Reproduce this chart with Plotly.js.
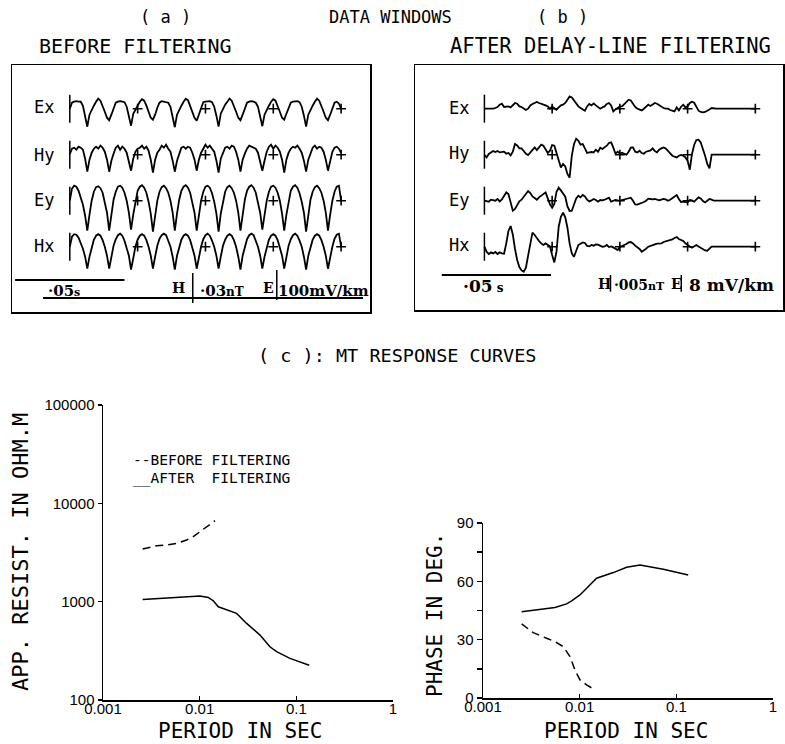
<!DOCTYPE html>
<html><head><meta charset="utf-8">
<script src="https://cdn.plot.ly/plotly-3.0.1.min.js"></script>
<style>html,body{margin:0;padding:0;background:#fff}#chart{width:785px;height:744px}</style>
</head><body><div id="chart"></div>
<script>
// ================= DATA =================
const channels = ['Ex', 'Hy', 'Ey', 'Hx'];
const sampleInterval = 0.001;            // s between samples
const quarterMarks = [0.031, 0.062, 0.093, 0.124]; // s

// (a) before filtering (relative amplitude)
const exA = [
0, 6, 7, 7.5, 7, 7, 3, -7, -18,
-6, -1, 3, 7, 10, 8, 3, -3, -9, -11.5, -6, 1, 6, 7, 7.5, 7, 6.5, 2, -7, -17,
-5, -1, 4, 7, 9.5, 8, 3, -3, -9, -11, -6, 1, 6, 7.5, 7, 7, 6, 2, -7, -18.5,
-6, -1, 3, 7, 10, 8.5, 3, -3, -9, -12, -6, 1, 6.5, 7, 7, 7.5, 6.5, 2, -7, -18,
-5, 0, 4, 7, 10, 8, 3, -3, -9, -11.5, -6, 1, 6, 7, 7.5, 7, 6, 2, -7, -17.5,
-6, -1, 3, 7, 9.5, 8, 3, -3, -9, -11, -5, 1, 6, 7, 7, 7.5, 6.5, 2, -7, -18,
-6, -1, 3, 7, 10, 8, 3, -3, -9, -11.5, -6, 1, 6, 7, 5, 0];
const hyA = [
0.5, 6, 7, 5, 8, 7, 5, -4, -17,
-5, 2, 6, 8, 6, 9, 7, 3, -5, -17,
-6, 1, 7, 9, 5, 8, 6, 2, -6, -16,
-4, 3, 6, 7, 9, 6, 8, 4, -5, -18,
-5, 2, 5, 9, 7, 10, 6, 3, -6, -17,
-6, 1, 7, 8, 6, 8, 7, 2, -5, -16,
-5, 2, 6, 10, 7, 9, 6, 3, -6, -18,
-4, 2, 7, 8, 6, 9, 8, 3, -5, -17,
-5, 1, 6, 9, 8, 7, 6, 2, -6, -16,
-6, 3, 8, 10, 6, 9, 7, 3, -5, -18,
-5, 2, 6, 8, 7, 9, 6, 2, -6, -17,
-5, 1, 7, 9, 6, 8, 7, 3, -5, -16,
-5, 3, 7, 8, 6, 2];
const eyA = [
0, 12, 15, 14, 10, 4, -4, -15, -30,
-14, 0, 9, 13.5, 14.5, 12.5, 8, -1, -12, -30,
-13, 1, 9, 14, 15, 13, 8, 0, -12, -29,
-14, 0, 10, 14, 15.5, 13, 8, -1, -13, -31,
-14, 0, 9, 13.5, 15, 12.5, 8, 0, -12, -30,
-13, 1, 10, 14, 15.5, 13, 8, -1, -12, -30,
-14, 0, 9, 14, 15, 13, 7.5, -1, -13, -31,
-13, 0, 9, 13.5, 15, 12.5, 8, 0, -12, -30,
-14, 1, 10, 14, 15.5, 13, 8, -1, -12, -29,
-13, 0, 9, 14, 15, 13, 8, 0, -13, -30,
-14, 0, 10, 14, 15.5, 13, 7.5, -1, -12, -31,
-13, 1, 9, 13.5, 15, 12.5, 8, 0, -12, -30,
-14, 0, 9, 14, 15, 0];
const hxA = [
0, 10, 12.5, 12, 9, 4, -2, -10, -22,
-10, 0, 7, 11, 12.5, 11, 6.5, 0, -9, -22,
-9, 1, 7.5, 11.5, 13, 11, 6, -1, -9, -23,
-10, 0, 7, 11, 12.5, 11, 6.5, 0, -9, -22,
-10, 1, 8, 11.5, 13, 11.5, 6, 0, -10, -23,
-9, 0, 7, 11, 12.5, 11, 6.5, -1, -9, -22,
-10, 0, 7.5, 11.5, 13, 11, 6, 0, -9, -22,
-10, 1, 7, 11, 12.5, 11, 6.5, 0, -10, -23,
-9, 0, 7.5, 11.5, 13, 11.5, 6, 0, -9, -22,
-10, 0, 7, 11, 12.5, 11, 6.5, -1, -9, -22,
-10, 1, 7.5, 11.5, 13, 11, 6, 0, -10, -23,
-9, 0, 7, 11, 12.5, 11, 6.5, 0, -9, -22,
-10, 0, 8, 12, 13, 0];

// (b) after delay-line filtering (relative amplitude)
const exB = [
0, 0, -0.7, 0, 0, 0.7, 1.7, 4, 5, 1.7,
2.3, 2.3, 1.3, 4, 5.7, 5, 2.3, 1.7, 0, -1.3,
0, 3.3, 4.7, 6, 6.7, 5.7, 5, 4.7, 3.3, 2.3,
0, 2, 0, -1, 1.3, 3.3, 4, 5.7, 9, 12.3,
11.3, 8, 4.7, 2.3, 0.7, -0.7, -2, 2.3, 4.7, 3.3,
5.3, 3.3, 1.3, 0, 1.3, 2.3, 4.7, 5.7, 3.3, -2.7,
-0.7, 1.3, 2.3, 2.3, 4.7, 7.3, 9, 8.3, 4.7, 1.7,
0, -1, -1.7, 0, 2.3, 4, 2.7, 4, 5.7, 5,
3.3, 2, 0.7, 0, 0, -1.3, -2, -2.7, 1.3, -1.7,
2, 4, 1.3, 2.3, 5.7, 7, 6, 1.3, -2, -3.3,
-3.7, -3.3, -2.3, -0.7, 0.7,
0, 0, 0, 0, 0, 0, 0, 0, 0, 0, 0, 0, 0, 0, 0, 0, 0, 0, 0, 0];
const hyB = [
0, -2.7, 0.7, 2.3, 3.7, 2.7, 3.7, 2.3, 3, 3,
1, 1.7, -0.7, 3, 10.7, 9.3, 6.3, 6.3, 3.7, 1,
-0.3, 2.3, 5.7, 7.3, 4.7, 7.3, 10, 9, 5, 1.7,
4, 9.7, 9, 1.7, -3.7, -12.7, -9.3, -11.7, -19.3, -23,
-1, 10.7, 16, 14, 10, 10.7, 6.3, 1.7, 2.3, 2.7,
2.3, 5, 3, 7, 5.7, 7, 9, 11.7, 12.3, 7,
1, 3, 1, 2, 1, 0, 3, 7, 7.3, 3,
2.3, 4, 1.7, 1, 3, 3.7, 4.3, 6.3, 3.7, 2.3,
5, 6.3, 7.3, 6.3, 3.7, 1.7, -1, -2, -2.7, -1,
-0.3, -1, -2.7, -6, -15, 0.7, 9.7, 14.7, 15, 12.3,
6.3, -1, -9.3, -13.7, 0,
0, 0, 0, 0, 0, 0, 0, 0, 0, 0, 0, 0, 0, 0, 0, 0, 0, 0, 0, 0];
const eyB = [
0, -0.3, -1, 1, 0.3, 0, 1.7, -0.7, 1.3, 4.3,
8.3, 6.7, -3.3, -10, -8.3, -3.7, -0.7, 1, 4.3, 7.7,
9.7, 7.7, 4.3, 2.7, 1, 3.3, 5, 6.3, 8.3, 2.3,
-3.7, -7, -3.3, 9, 13, 10.3, 7, 4, -5.7, -10.3,
-10, -3.3, 2.3, 5, 3.3, 5.7, 4.3, 1, -0.7, 0.3,
1.7, 0.7, -1, 0.7, 0.3, 1, 2, 3, -1, -0.3,
0.7, 0.3, 0, 0.7, 1.3, 1.7, 2, 3, 0, -3.7,
-4, -3.3, -2.3, -1.3, 0, 2, 1.7, 1.3, 1.7, 0.7,
0.3, 1, 1.7, 1.3, 0, 1, 2.3, 4.3, 5.7, 1.7,
-1.3, -1, -1.7, -1.7, 0.7, 0.3, -1, 1, 3.3, 2.3,
-0.3, -1.7, -0.3, 1.7, 1,
0, 0, 0, 0, 0, 0, 0, 0, 0, 0, 0, 0, 0, 0, 0, 0, 0, 0, 0, 0];
const hxB = [
0, -5, -7.3, -5.7, -6.7, -5.3, -7.3, -5.7, -6.7, -7,
3.3, 15.7, 20.7, 12.3, -2.3, -13.3, -20.3, -23.7, -25, -21,
-9, 4, 14, 11.7, 8.3, 5.7, 3.3, 1.7, 3.3, 2,
0.3, -8.3, -15.7, -5, 20, 30, 34, 29.3, 19, 3.3,
-6.7, -10, -4.3, 1.7, 3, 4.3, 3.7, 0.7, 0.3, 1.7,
1, 2.3, 2, 0.7, 0, 0.3, 1.7, -0.3, 0.3, -0.7,
-2.3, -3.3, -0.3, 1, 1.7, 2.7, 4.3, 4.7, 3.3, 1,
-0.7, -2.3, -5, -3.7, -2, 0, 1, 1.7, 2.3, 3,
3.3, 3.3, 4.7, 5.3, 6.3, 6.7, 7.3, 8.7, 9.7, 7.7,
6.7, 5.7, 3.3, 1.3, 0.3, -1, 0, 1.7, 0.3, -1.3,
-2.7, -3.7, -4, -2.3, 0,
0, 0, 0, 0, 0, 0, 0, 0, 0, 0, 0, 0, 0, 0, 0, 0, 0, 0, 0, 0];

// (c) MT response curves
const periodRhoBefore = [0.00257, 0.00359, 0.00455, 0.00578, 0.00733, 0.00859, 0.01007, 0.0118, 0.0144];
const rhoBefore       = [3428, 3707, 3767, 3918, 4236, 4579, 5145, 5779, 6655];
const periodRhoAfter  = [0.00257, 0.00455, 0.00733, 0.01007, 0.01228, 0.01383, 0.01558, 0.0190, 0.0241, 0.0306, 0.0421, 0.0533, 0.0625, 0.0859, 0.136];
const rhoAfter        = [1055, 1096, 1122, 1140, 1105, 1021, 887, 822, 760, 601, 457, 348, 310, 265, 226];
const periodPhaseAfter  = [0.00251, 0.00388, 0.00555, 0.00733, 0.00826, 0.01007, 0.01228, 0.01497, 0.0223, 0.0306, 0.0421, 0.0733, 0.1327];
const phaseAfter        = [44.4, 45.6, 46.5, 48.4, 49.9, 53.0, 57.3, 61.6, 64.5, 67.2, 68.4, 66.2, 63.3];
const periodPhaseBefore = [0.00251, 0.00331, 0.00455, 0.00555, 0.00678, 0.00794, 0.00894, 0.01007, 0.0118, 0.01406];
const phaseBefore       = [38.1, 33.6, 30.7, 29.0, 26.4, 21.3, 14.4, 9.3, 6.7, 4.5];

// ================= LAYOUT HELPERS =================
const W = 785, H = 744;
const px = x => x / W;
const py = y => 1 - y / H;
const mono = 'DejaVu Sans Mono, Liberation Mono, monospace';
const serif = 'DejaVu Serif, Liberation Serif, serif';
const traceOffset = [138, 92, 46, 0];   // vertical stacking of channels
const tickHalf = 14;

function wave(vals, off, xa, ya) {
  return {type: 'scatter', mode: 'lines', x: vals.map((v, i) => i * sampleInterval),
    y: vals.map(v => v + off), xaxis: xa, yaxis: ya,
    line: {color: '#000', width: 1.8}, showlegend: false, hoverinfo: 'skip'};
}
function startTicks(xa, ya) {
  const x = [], y = [];
  traceOffset.forEach(o => { x.push(0, 0, null); y.push(o - tickHalf, o + tickHalf, null); });
  return {type: 'scatter', mode: 'lines', x, y, xaxis: xa, yaxis: ya,
    line: {color: '#000', width: 1.5}, showlegend: false, hoverinfo: 'skip'};
}
function crosses(xa, ya) {
  const x = [], y = [];
  traceOffset.forEach(o => quarterMarks.forEach(t => { x.push(t); y.push(o); }));
  return {type: 'scatter', mode: 'markers', x, y, xaxis: xa, yaxis: ya,
    marker: {symbol: 'cross-thin', size: 7, line: {color: '#000', width: 1.6}},
    showlegend: false, hoverinfo: 'skip'};
}

const dataA = [exA, hyA, eyA, hxA];
const dataB = [exB, hyB, eyB, hxB];
const traces = [];
dataA.forEach((v, i) => traces.push(wave(v, traceOffset[i], 'x3', 'y3')));
dataB.forEach((v, i) => traces.push(wave(v, traceOffset[i], 'x4', 'y4')));
traces.push(startTicks('x3', 'y3'), startTicks('x4', 'y4'), crosses('x3', 'y3'), crosses('x4', 'y4'));

traces.push({type: 'scatter', mode: 'lines', x: periodRhoBefore, y: rhoBefore, xaxis: 'x', yaxis: 'y',
  line: {color: '#000', width: 1.5, dash: '8px,5px'}, showlegend: false, hoverinfo: 'skip'});
traces.push({type: 'scatter', mode: 'lines', x: periodRhoAfter, y: rhoAfter, xaxis: 'x', yaxis: 'y',
  line: {color: '#000', width: 1.5}, showlegend: false, hoverinfo: 'skip'});
traces.push({type: 'scatter', mode: 'lines', x: periodPhaseAfter, y: phaseAfter, xaxis: 'x2', yaxis: 'y2',
  line: {color: '#000', width: 1.5}, showlegend: false, hoverinfo: 'skip'});
traces.push({type: 'scatter', mode: 'lines', x: periodPhaseBefore, y: phaseBefore, xaxis: 'x2', yaxis: 'y2',
  line: {color: '#000', width: 1.5, dash: '8px,5px'}, showlegend: false, hoverinfo: 'skip'});

function txt(text, x, y, size, opts) {
  return Object.assign({text, xref: 'paper', yref: 'paper', x: px(x), y: py(y), showarrow: false,
    font: {family: mono, size, color: '#000'}, xanchor: 'center', yanchor: 'middle'}, opts || {});
}
const boldSerif = s => ({family: serif, size: s, color: '#000', weight: 'bold'});

const annotations = [
  txt('( a )', 165, 17, 17),
  txt('DATA WINDOWS', 390, 17, 17),
  txt('( b )', 562, 17, 17),
  txt('BEFORE FILTERING', 135, 46, 20),
  txt('AFTER DELAY-LINE FILTERING', 610, 46, 20.5),
  txt('( c ): MT RESPONSE CURVES', 397, 355, 18.5),
  txt('PERIOD IN SEC', 240, 744, 21, {yanchor: 'bottom', borderpad: 0}),
  txt('PERIOD IN SEC', 626, 744, 21, {yanchor: 'bottom', borderpad: 0}),
  txt('APP. RESIST. IN OHM.M', 20, 552, 22, {textangle: -90}),
  txt('PHASE IN DEG.', 435, 615, 21, {textangle: -90}),
  txt('--BEFORE FILTERING', 131, 460, 14.5, {xanchor: 'left'}),
  txt('__AFTER  FILTERING', 131, 478, 14.5, {xanchor: 'left'}),
  // scale legends (a)
  txt('·05<span style="font-size:11px">s</span>', 64, 291, 15, {font: boldSerif(15)}),
  txt('H', 178, 288, 14, {font: boldSerif(14)}),
  txt('·03<span style="font-size:12px">nT</span>', 222, 291, 15, {font: boldSerif(15)}),
  txt('E', 268, 288, 14, {font: boldSerif(14)}),
  txt('100mV/km', 323, 291, 15, {font: boldSerif(15)}),
  // scale legends (b)
  txt('·05<span style="font-size:12px"> s</span>', 483, 286, 17, {font: boldSerif(17)}),
  txt('H', 604, 284, 14, {font: boldSerif(14)}),
  txt('·005<span style="font-size:11px">nT</span>', 639, 285, 14, {font: boldSerif(14)}),
  txt('E', 676, 284, 14, {font: boldSerif(14)}),
  txt('8 mV/km', 731, 285, 17, {font: boldSerif(17)})
];
const labYA = [107, 155, 200, 246], labYB = [108, 153, 200, 245];
channels.forEach((c, i) => {
  annotations.push(txt(c, 56, labYA[i], 17, {xanchor: 'right'}));
  annotations.push(txt(c, 471, labYB[i], 17, {xanchor: 'right'}));
});

// scale bars in data units
const scaleBarSec = 0.05;
const shapes = [
  {type: 'line', xref: 'x3', yref: 'y3', x0: -0.025, x1: -0.025 + scaleBarSec, y0: -33.3, y1: -33.3, line: {color: '#000', width: 2}},
  {type: 'line', xref: 'x3', yref: 'y3', x0: 0.0562, x1: 0.0562, y0: -26.3, y1: -56.3, line: {color: '#000', width: 1.5}},
  {type: 'line', xref: 'x3', yref: 'y3', x0: 0.0946, x1: 0.0946, y0: -23.3, y1: -53.3, line: {color: '#000', width: 1.5}},
  {type: 'line', xref: 'paper', yref: 'paper', x0: px(43), x1: px(363), y0: py(298), y1: py(298), line: {color: '#000', width: 2}},
  {type: 'line', xref: 'x4', yref: 'y4', x0: -0.0195, x1: -0.0195 + scaleBarSec, y0: -28.3, y1: -28.3, line: {color: '#000', width: 2}},
  {type: 'line', xref: 'x4', yref: 'y4', x0: 0.0577, x1: 0.0577, y0: -28.3, y1: -45, line: {color: '#000', width: 1.5}},
  {type: 'line', xref: 'x4', yref: 'y4', x0: 0.0901, x1: 0.0901, y0: -28.3, y1: -45, line: {color: '#000', width: 1.5}}
];

const frameAxis = (domain, range, anchor) => ({domain, range, anchor, showline: true, mirror: true,
  linecolor: '#000', linewidth: 1.5, showticklabels: false, ticks: '', showgrid: false, zeroline: false, fixedrange: true});
const tickFont = {family: 'Liberation Sans, Arial, sans-serif', size: 15, color: '#000'};
const plotAxis = o => Object.assign({showline: true, linecolor: '#000', linewidth: 1.5, ticks: 'outside',
  ticklen: 4, tickwidth: 1.5, tickcolor: '#000', showgrid: false, zeroline: false, tickfont: tickFont}, o);

const layout = {
  width: W, height: H, margin: {l: 0, r: 0, t: 0, b: 0},
  paper_bgcolor: '#fff', plot_bgcolor: 'rgba(0,0,0,0)', showlegend: false,
  font: {family: mono, color: '#000'},
  xaxis: plotAxis({type: 'log', domain: [px(103), px(393)], range: [-3, 0], anchor: 'y', ticks: 'inside',
    ticklabelstandoff: -6, tickvals: [0.001, 0.01, 0.1, 1], ticktext: ['0.001', '0.01', '0.1', '1']}),
  yaxis: plotAxis({type: 'log', domain: [py(700), py(405)], range: [2, 5], anchor: 'x',
    tickvals: [100, 1000, 10000, 100000], ticktext: ['100', '1000', '10000', '100000']}),
  xaxis2: plotAxis({type: 'log', domain: [px(483), px(773)], range: [-3, 0], anchor: 'y2', ticks: 'inside',
    ticklabelstandoff: -6, tickvals: [0.001, 0.01, 0.1, 1], ticktext: ['0.001', '0.01', '0.1', '1']}),
  yaxis2: plotAxis({domain: [py(698), py(523)], range: [0, 90], anchor: 'x2', ticklen: 5,
    tickvals: [0, 15, 30, 45, 60, 75, 90], ticktext: ['0', '', '30', '', '60', '', '90']}),
  xaxis3: frameAxis([px(12), px(370)], [-0.026417, 0.137203], 'y3'),
  yaxis3: frameAxis([py(312), py(65)], [-65.3, 181.7], 'x3'),
  xaxis4: frameAxis([px(415), px(783)], [-0.031764, 0.136654], 'y4'),
  yaxis4: frameAxis([py(310), py(65)], [-63.3, 181.7], 'x4'),
  annotations, shapes
};
Plotly.newPlot('chart', traces, layout, {displayModeBar: false, staticPlot: true});
</script></body></html>
